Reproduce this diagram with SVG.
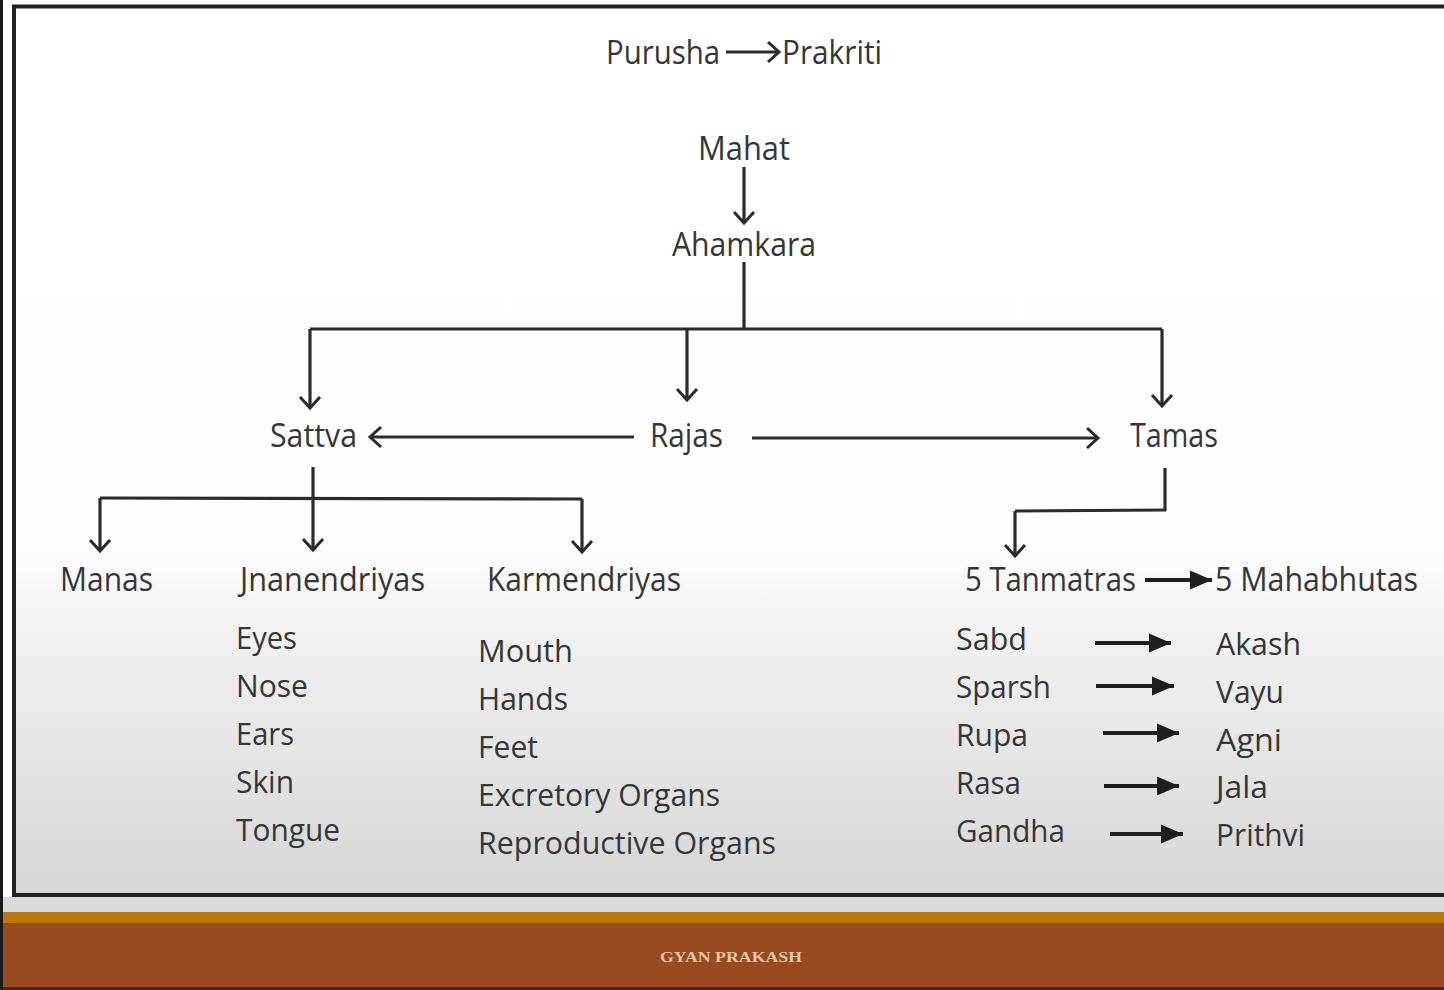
<svg xmlns="http://www.w3.org/2000/svg" width="1444" height="990" viewBox="0 0 1444 990">
<defs>
<linearGradient id="bg" x1="0" y1="0" x2="0" y2="1">
<stop offset="0" stop-color="#ffffff"/>
<stop offset="0.6" stop-color="#fefefe"/>
<stop offset="0.72" stop-color="#f0f0f0"/>
<stop offset="1" stop-color="#d6d6d6"/>
</linearGradient>
<marker id="chev" viewBox="-14 -12 18 24" refX="0" refY="0" markerWidth="18" markerHeight="24" markerUnits="userSpaceOnUse" orient="auto">
<path d="M-11,-10 L0,0 L-11,10" fill="none" stroke="#2b2b2b" stroke-width="3" stroke-linejoin="miter"/>
</marker>
<marker id="tri" viewBox="-24 -11 26 22" refX="0" refY="0" markerWidth="26" markerHeight="22" markerUnits="userSpaceOnUse" orient="auto">
<path d="M-22,-9.5 L0,0 L-22,9.5 Z" fill="#1e1e1e"/>
</marker>
</defs>
<style>
.t{font-family:"Open Sans","Noto Sans",sans-serif;font-size:31px;fill:#363636}
.h{font-family:"Open Sans","Noto Sans",sans-serif;font-size:32px;fill:#363636}
.ln{fill:none;stroke:#2b2b2b;stroke-width:3.2}
.ar{fill:none;stroke:#2b2b2b;stroke-width:3.2;marker-end:url(#chev)}
.fa{fill:none;stroke:#1e1e1e;stroke-width:4;marker-end:url(#tri)}
.foot{font-family:"Liberation Serif","DejaVu Serif",serif;font-size:14px;font-weight:bold;fill:#e3c6a6}
</style>
<rect x="0" y="0" width="1444" height="990" fill="#ffffff"/>
<rect x="14" y="6" width="1440" height="889" fill="url(#bg)"/>
<rect x="0" y="897" width="1444" height="15" fill="#d9dcdb"/>
<rect x="0" y="912" width="1444" height="11" fill="#bf760f"/>
<rect x="0" y="923" width="1444" height="67" fill="#9a4a21"/>
<rect x="0" y="987" width="1444" height="3" fill="#3a2a20"/>
<rect x="0" y="0" width="3" height="990" fill="#1a1a1a"/>
<path d="M14,896 L14,6.5 L1450,6.5" fill="none" stroke="#222" stroke-width="4"/>
<path d="M12,895 L1450,895" fill="none" stroke="#222" stroke-width="4"/>
<text class="foot" x="731" y="962" text-anchor="middle" textLength="142" lengthAdjust="spacingAndGlyphs">GYAN PRAKASH</text>

<g id="connectors">
<path class="ar" d="M726,52 L779,52"/>
<path class="ar" d="M744,167 L744,223"/>
<path class="ln" d="M744,262 L744,329"/>
<path class="ln" d="M310,329 L1162,329"/>
<path class="ar" d="M310,329 L310,408"/>
<path class="ar" d="M687,329 L687,400"/>
<path class="ar" d="M1162,329 L1162,406"/>
<path class="ar" d="M634,437 L370,437"/>
<path class="ar" d="M752,438 L1098,438"/>
<path class="ln" d="M313,467 L313,498"/>
<path class="ln" d="M100,498 L582,499"/>
<path class="ar" d="M100,498 L100,551"/>
<path class="ar" d="M313,498 L313,550"/>
<path class="ar" d="M582,499 L582,552"/>
<path class="ln" d="M1165,468 L1165,511"/>
<path class="ln" d="M1015,511 L1166,510"/>
<path class="ar" d="M1015,511 L1015,556"/>
<path class="fa" d="M1145,580 L1212,580"/>
<path class="fa" d="M1095,643 L1171,643"/>
<path class="fa" d="M1096,686 L1174,686"/>
<path class="fa" d="M1103,733 L1179,733"/>
<path class="fa" d="M1104,786 L1179,786"/>
<path class="fa" d="M1110,834 L1183,834"/>
</g>

<g id="purusha"><text class="h" x="606" y="64" textLength="114" lengthAdjust="spacingAndGlyphs">Purusha</text></g>
<g id="prakriti"><text class="h" x="782" y="64" textLength="100" lengthAdjust="spacingAndGlyphs">Prakriti</text></g>
<g id="mahat"><text class="h" x="698" y="160" textLength="92" lengthAdjust="spacingAndGlyphs">Mahat</text></g>
<g id="ahamkara"><text class="h" x="672" y="256" textLength="144" lengthAdjust="spacingAndGlyphs">Ahamkara</text></g>
<g id="sattva"><text class="h" x="270" y="447" textLength="87" lengthAdjust="spacingAndGlyphs">Sattva</text></g>
<g id="rajas"><text class="h" x="650" y="447" textLength="73" lengthAdjust="spacingAndGlyphs">Rajas</text></g>
<g id="tamas"><text class="h" x="1130" y="447" textLength="88" lengthAdjust="spacingAndGlyphs">Tamas</text></g>
<g id="manas"><text class="h" x="60" y="591" textLength="93" lengthAdjust="spacingAndGlyphs">Manas</text></g>
<g id="jnanendriyas"><text class="h" x="240" y="591" textLength="185" lengthAdjust="spacingAndGlyphs">Jnanendriyas</text></g>
<g id="karmendriyas"><text class="h" x="487" y="591" textLength="194" lengthAdjust="spacingAndGlyphs">Karmendriyas</text></g>
<g id="tanmatras"><text class="h" x="965" y="591" textLength="171" lengthAdjust="spacingAndGlyphs">5 Tanmatras</text></g>
<g id="mahabhutas"><text class="h" x="1215" y="591" textLength="203" lengthAdjust="spacingAndGlyphs">5 Mahabhutas</text></g>

<g id="jnanendriyas-list">
<text class="t" x="236" y="649" textLength="61" lengthAdjust="spacingAndGlyphs">Eyes</text>
<text class="t" x="236" y="697" textLength="72" lengthAdjust="spacingAndGlyphs">Nose</text>
<text class="t" x="236" y="745" textLength="58" lengthAdjust="spacingAndGlyphs">Ears</text>
<text class="t" x="236" y="793" textLength="58" lengthAdjust="spacingAndGlyphs">Skin</text>
<text class="t" x="236" y="841" textLength="104" lengthAdjust="spacingAndGlyphs">Tongue</text>
</g>
<g id="karmendriyas-list">
<text class="t" x="478" y="662" textLength="95" lengthAdjust="spacingAndGlyphs">Mouth</text>
<text class="t" x="478" y="710" textLength="90" lengthAdjust="spacingAndGlyphs">Hands</text>
<text class="t" x="478" y="758" textLength="60" lengthAdjust="spacingAndGlyphs">Feet</text>
<text class="t" x="478" y="806" textLength="242" lengthAdjust="spacingAndGlyphs">Excretory Organs</text>
<text class="t" x="478" y="854" textLength="298" lengthAdjust="spacingAndGlyphs">Reproductive Organs</text>
</g>
<g id="tanmatras-list">
<text class="t" x="956" y="650" textLength="71" lengthAdjust="spacingAndGlyphs">Sabd</text>
<text class="t" x="956" y="698" textLength="95" lengthAdjust="spacingAndGlyphs">Sparsh</text>
<text class="t" x="956" y="746" textLength="72" lengthAdjust="spacingAndGlyphs">Rupa</text>
<text class="t" x="956" y="794" textLength="65" lengthAdjust="spacingAndGlyphs">Rasa</text>
<text class="t" x="956" y="842" textLength="109" lengthAdjust="spacingAndGlyphs">Gandha</text>
</g>
<g id="mahabhutas-list">
<text class="t" x="1216" y="655" textLength="85" lengthAdjust="spacingAndGlyphs">Akash</text>
<text class="t" x="1216" y="703" textLength="68" lengthAdjust="spacingAndGlyphs">Vayu</text>
<text class="t" x="1216" y="751" textLength="66" lengthAdjust="spacingAndGlyphs">Agni</text>
<text class="t" x="1216" y="798" textLength="52" lengthAdjust="spacingAndGlyphs">Jala</text>
<text class="t" x="1216" y="846" textLength="89" lengthAdjust="spacingAndGlyphs">Prithvi</text>
</g>
</svg>
